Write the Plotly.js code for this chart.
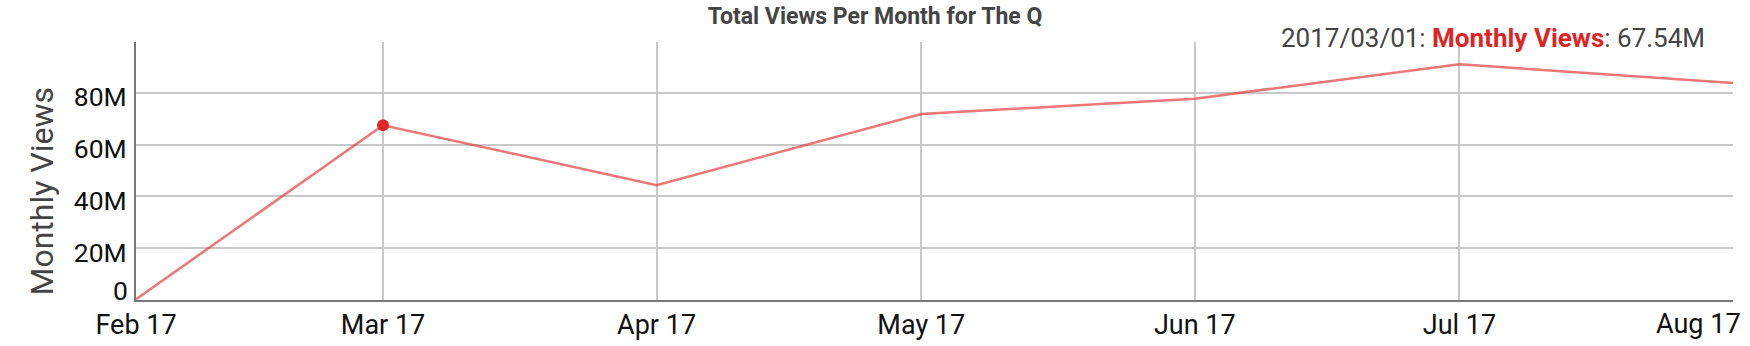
<!DOCTYPE html>
<html>
<head>
<meta charset="utf-8">
<script src="https://cdn.plot.ly/plotly-3.0.1.min.js"></script>
<style>html,body{margin:0;padding:0;background:#fff;}#chart{width:1750px;height:346px;}</style>
</head>
<body>
<div id="chart"></div>
<script>
// Data
const months = ['2017-02-01','2017-03-01','2017-04-01','2017-05-01','2017-06-01','2017-07-01','2017-08-01'];
const monthlyViews = [0.3e6, 67.54e6, 44.4e6, 71.9e6, 77.8e6, 91.1e6, 83.9e6];
const xTickLabels = ['Feb 17','Mar 17','Apr 17','May 17','Jun 17','Jul 17','Aug 17'];
const yTickVals = [0, 20e6, 40e6, 60e6, 80e6];
const yTickLabels = ['0','20M','40M','60M','80M'];
const hoverIndex = 1;
const hoverDate = '2017/03/01';
const hoverValue = '67.54M';

const font = 'Roboto, "Open Sans", sans-serif';

const traces = [
  {
    x: months, y: monthlyViews, type: 'scatter', mode: 'lines',
    line: {color: 'rgba(230,60,60,0.7)', width: 2.5},
    hoverinfo: 'skip', cliponaxis: false
  },
  {
    x: [months[hoverIndex]], y: [monthlyViews[hoverIndex]], type: 'scatter', mode: 'markers',
    marker: {color: '#e02626', size: 12},
    hoverinfo: 'skip', cliponaxis: false
  }
];

const layout = {
  width: 1750, height: 346,
  margin: {l: 136, r: 17, t: 42, b: 46},
  paper_bgcolor: '#fff', plot_bgcolor: '#fff',
  showlegend: false,
  font: {family: font, color: '#222'},
  title: {
    text: 'Total Views Per Month for The Q',
    font: {family: font, size: 23, color: '#444', weight: 'bold'},
    x: 0.5, xanchor: 'center', y: 1 - 16/346, yanchor: 'middle', yref: 'container'
  },
  xaxis: {
    type: 'date',
    range: [months[0], months[months.length - 1]],
    tickvals: months.slice(0, -1),
    ticktext: xTickLabels.slice(0, -1),
    tickfont: {family: font, size: 27, color: '#111'},
    showgrid: true, gridcolor: '#c8c8c8', gridwidth: 2,
    showline: true, linecolor: '#777', linewidth: 2,
    ticks: '', zeroline: false, fixedrange: true
  },
  yaxis: {
    range: [0, 99.7e6],
    tickvals: yTickVals.slice(1),
    ticktext: yTickLabels.slice(1),
    tickfont: {family: font, size: 26.5, color: '#111'},
    ticklabelshift: 4, ticklabelstandoff: 2,
    showgrid: true, gridcolor: '#c8c8c8', gridwidth: 2,
    showline: true, linecolor: '#777', linewidth: 2,
    ticks: '', zeroline: false, fixedrange: true
  },
  annotations: [
    {
      text: 'Monthly Views', textangle: -90,
      xref: 'paper', yref: 'paper', x: (42 - 136) / 1597, y: (300 - 191.5) / 258,
      xanchor: 'center', yanchor: 'middle', showarrow: false,
      font: {family: font, size: 32, color: '#444'}
    },
    {
      text: hoverDate + ': <b><span style="color:#e02424">Monthly Views</span></b>: ' + hoverValue,
      xref: 'paper', yref: 'paper', x: (1707 - 136) / 1597, y: (300 - 38) / 258,
      xanchor: 'right', yanchor: 'middle', showarrow: false,
      font: {family: font, size: 26, color: '#444'}
    },
    {
      text: yTickLabels[0],
      xref: 'paper', yref: 'y', x: 0, y: yTickVals[0],
      xanchor: 'right', yanchor: 'middle', xshift: -6, yshift: 10, showarrow: false,
      font: {family: font, size: 26.5, color: '#111'}
    },
    {
      text: xTickLabels[xTickLabels.length - 1],
      xref: 'x', yref: 'paper', x: months[months.length - 1], y: 0,
      xanchor: 'center', yanchor: 'middle', xshift: -35, yshift: -24, showarrow: false,
      font: {family: font, size: 27, color: '#111'}
    }
  ]
};

Plotly.newPlot('chart', traces, layout, {displayModeBar: false, staticPlot: true});
</script>
</body>
</html>
